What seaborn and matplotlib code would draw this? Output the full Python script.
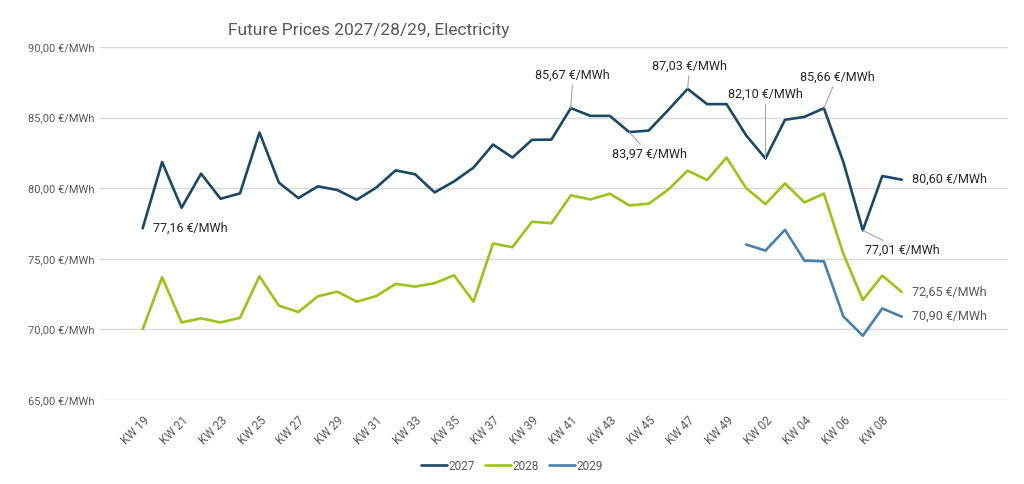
import numpy as np
import pandas as pd
import seaborn as sns
import matplotlib.pyplot as plt

# --- data ---
weeks = ['KW %02d' % w for w in range(19, 50)] + ['KW 01', 'KW 02', 'KW 03', 'KW 04',
                                                   'KW 05', 'KW 06', 'KW 07', 'KW 08', 'KW 09']

p2027 = [77.16, 81.85, 78.61, 81.03, 79.25, 79.63, 83.94, 80.39, 79.30, 80.13,
         79.87, 79.18, 80.04, 81.26, 80.98, 79.70, 80.48, 81.46, 83.09, 82.17,
         83.42, 83.44, 85.67, 85.12, 85.12, 83.97, 84.08, 85.53, 87.03, 85.95,
         85.95, 83.75, 82.10, 84.84, 85.05, 85.66, 81.85, 77.01, 80.86, 80.60]

p2028 = [70.02, 73.69, 70.49, 70.78, 70.49, 70.82, 73.76, 71.68, 71.23, 72.34,
         72.67, 71.96, 72.36, 73.22, 73.03, 73.27, 73.83, 71.96, 76.08, 75.82,
         77.62, 77.52, 79.49, 79.20, 79.61, 78.78, 78.90, 79.89, 81.24, 80.58,
         82.17, 80.01, 78.87, 80.34, 78.99, 79.61, 75.35, 72.08, 73.81, 72.65]

p2029 = [np.nan] * 31 + [76.01, 75.58, 77.05, 74.87, 74.82, 70.92, 69.55, 71.48, 70.90]

years = ['2027', '2028', '2029']
colors = ['#1b4865', '#9ac419', '#4a7fae']

y_ticks = [65, 70, 75, 80, 85, 90]
y_labels = ['65,00 €/MWh', '70,00 €/MWh', '75,00 €/MWh', '80,00 €/MWh', '85,00 €/MWh', '90,00 €/MWh']

df = pd.DataFrame({'pos': list(range(len(weeks))) * 3,
                   'year': np.repeat(years, len(weeks)),
                   'price': p2027 + p2028 + p2029})
df = df.dropna()

def eur(v):
    return ('%.2f' % v).replace('.', ',') + ' €/MWh'

# --- plot ---
sns.set_theme(style='white')
plt.rcParams['font.family'] = ['Roboto', 'DejaVu Sans']

fig = plt.figure(figsize=(10.24, 4.84), dpi=100)
ax = fig.add_axes([0.0977, 0.1736, 0.8863, 0.7294])

sns.lineplot(data=df, x='pos', y='price', hue='year', palette=colors,
             linewidth=1.9, ax=ax, legend=True)

ax.set_ylim(65, 90)
ax.set_xlim(-2.19, 44.44)
ax.set_yticks(y_ticks)
ax.set_yticklabels(y_labels, fontsize=8, color='#595959')
ax.set_xticks(range(0, len(weeks), 2))
ax.set_xticklabels(weeks[::2], rotation=45, ha='right', rotation_mode='anchor',
                   fontsize=8.5, color='#595959')
ax.tick_params(axis='x', length=0, pad=10)
ax.tick_params(axis='y', length=0, pad=4)
ax.set_xlabel('')
ax.set_ylabel('')
ax.grid(axis='y', color='#d9d9d9', linewidth=1)
for s in ax.spines.values():
    s.set_visible(False)

fig.text(0.36, 0.938, 'Future Prices 2027/28/29, Electricity', ha='center', va='center',
         fontsize=12.5, color='#595959')

# data labels
lead = dict(arrowstyle='-', color='#a6a6a6', lw=0.8, shrinkA=0, shrinkB=0)
lab = dict(fontsize=9, color='#262626', va='center')

ax.annotate(eur(p2027[0]), (0, p2027[0]), xytext=(10, 0), textcoords='offset pixels', ha='left', **lab)
ax.annotate(eur(p2027[22]), (22, p2027[22]), xytext=(2, 33), textcoords='offset pixels', ha='center',
            arrowprops=lead, **lab)
ax.annotate(eur(p2027[25]), (25, p2027[25]), xytext=(20, -22), textcoords='offset pixels', ha='center',
            arrowprops=lead, **lab)
ax.annotate(eur(p2027[28]), (28, p2027[28]), xytext=(2, 23), textcoords='offset pixels', ha='center',
            arrowprops=lead, **lab)
ax.annotate(eur(p2027[32]), (32, p2027[32]), xytext=(0, 64), textcoords='offset pixels', ha='center',
            arrowprops=lead, **lab)
ax.annotate(eur(p2027[35]), (35, p2027[35]), xytext=(13, 31), textcoords='offset pixels', ha='center',
            arrowprops=lead, **lab)
ax.annotate(eur(p2027[37]), (37, p2027[37]), xytext=(40, -20), textcoords='offset pixels', ha='center',
            arrowprops=lead, **lab)
ax.annotate(eur(p2027[39]), (39, p2027[39]), xytext=(10, 0), textcoords='offset pixels', ha='left', **lab)
ax.annotate(eur(p2028[39]), (39, p2028[39]), xytext=(10, 0), textcoords='offset pixels', ha='left',
            fontsize=9, color='#595959', va='center')
ax.annotate(eur(p2029[39]), (39, p2029[39]), xytext=(10, 0), textcoords='offset pixels', ha='left',
            fontsize=9, color='#595959', va='center')

leg = ax.legend(loc='center', bbox_to_anchor=(0.5, 0.037), bbox_transform=fig.transFigure,
                ncol=3, frameon=False, fontsize=8.5, handlelength=2.2, handletextpad=0.1,
                columnspacing=0.9)
for t in leg.get_texts():
    t.set_color('#595959')

fig.savefig('out.png', dpi=100)
